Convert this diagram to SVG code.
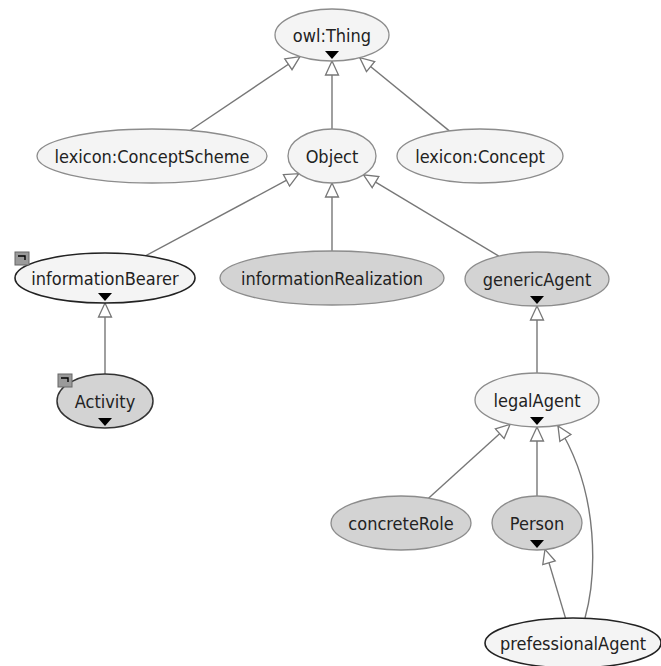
<svg xmlns="http://www.w3.org/2000/svg" width="661" height="666" viewBox="0 0 661 666">
<style>
text{font-family:"DejaVu Sans Condensed","DejaVu Sans",sans-serif;font-stretch:condensed;font-size:18px;fill:#222;text-anchor:middle;dominant-baseline:central}
.lt{fill:#f4f4f4;stroke:#8c8c8c;stroke-width:1.3}
.dk{fill:#d3d3d3;stroke:#8c8c8c;stroke-width:1.3}
.sel{stroke:#222;stroke-width:1.6}
.edge{fill:none;stroke:#777;stroke-width:1.4;marker-end:url(#tri)}
.exp{fill:#000}
.icon{fill:#9a9a9a;stroke:#666;stroke-width:1}
.iconmark{fill:none;stroke:#000;stroke-width:1.4}
</style>
<defs>
<marker id="tri" markerUnits="userSpaceOnUse" markerWidth="18" markerHeight="18" refX="15" refY="8" orient="auto">
<path d="M1,1.5 L15,8 L1,14.5 Z" fill="#fff" stroke="#777" stroke-width="1.3"/>
</marker>
</defs>
<g id="connectors">
<line class="edge" x1="190" y1="130.5" x2="300" y2="56.5"/>
<line class="edge" x1="332" y1="129" x2="332" y2="61"/>
<line class="edge" x1="449.3" y1="130.9" x2="359.8" y2="57.7"/>
<line class="edge" x1="145.5" y1="255.8" x2="298.8" y2="173.7"/>
<line class="edge" x1="332" y1="251" x2="332" y2="183"/>
<line class="edge" x1="498.8" y1="256.1" x2="363.5" y2="174.9"/>
<line class="edge" x1="105" y1="374" x2="105" y2="303"/>
<line class="edge" x1="537" y1="373" x2="537" y2="306"/>
<line class="edge" x1="428.5" y1="498.2" x2="510.1" y2="424.3"/>
<line class="edge" x1="537" y1="496" x2="537" y2="427"/>
<line class="edge" x1="565.5" y1="618.1" x2="545" y2="549.4"/>
<path class="edge" d="M585,618 C596,578 601,495 558,426"/>
</g>
<g id="owlThing">
<ellipse class="lt" cx="332" cy="35" rx="57" ry="26"/>
<text x="332" y="35">owl:Thing</text>
<path class="exp" d="M325,51 L339,51 L332,59 Z"/>
</g>
<g id="lexiconConceptScheme">
<ellipse class="lt" cx="152" cy="156" rx="115" ry="27"/>
<text x="152" y="156">lexicon:ConceptScheme</text>
</g>
<g id="Object">
<ellipse class="lt" cx="332" cy="156" rx="44" ry="27"/>
<text x="332" y="156">Object</text>
</g>
<g id="lexiconConcept">
<ellipse class="lt" cx="480" cy="156" rx="83" ry="27"/>
<text x="480" y="156">lexicon:Concept</text>
</g>
<g id="informationBearer">
<ellipse class="lt sel" cx="105" cy="278" rx="90" ry="25"/>
<text x="105" y="278">informationBearer</text>
<path class="exp" d="M98,293 L112,293 L105,301 Z"/>
<rect class="icon" x="15" y="252" width="14" height="13"/>
<path class="iconmark" d="M18,256 H25 V260"/>
</g>
<g id="informationRealization">
<ellipse class="dk" cx="332" cy="278" rx="112" ry="27"/>
<text x="332" y="278">informationRealization</text>
</g>
<g id="genericAgent">
<ellipse class="dk" cx="537" cy="279" rx="72" ry="27"/>
<text x="537" y="279">genericAgent</text>
<path class="exp" d="M530,296 L544,296 L537,304 Z"/>
</g>
<g id="Activity">
<ellipse class="dk" cx="105" cy="401" rx="48" ry="27" style="stroke:#333;stroke-width:1.5"/>
<text x="105" y="401">Activity</text>
<path class="exp" d="M98,418 L112,418 L105,426 Z"/>
<rect class="icon" x="58" y="374" width="14" height="13"/>
<path class="iconmark" d="M61,378 H68 V382"/>
</g>
<g id="legalAgent">
<ellipse class="lt" cx="537" cy="400" rx="62" ry="27"/>
<text x="537" y="400">legalAgent</text>
<path class="exp" d="M530,417 L544,417 L537,425 Z"/>
</g>
<g id="concreteRole">
<ellipse class="dk" cx="401" cy="523" rx="70" ry="27"/>
<text x="401" y="523">concreteRole</text>
</g>
<g id="Person">
<ellipse class="dk" cx="537" cy="523" rx="45" ry="27"/>
<text x="537" y="523">Person</text>
<path class="exp" d="M530,540 L544,540 L537,548 Z"/>
</g>
<g id="prefessionalAgent">
<ellipse class="lt sel" cx="573" cy="643" rx="88" ry="25"/>
<text x="573" y="643">prefessionalAgent</text>
</g>
</svg>
